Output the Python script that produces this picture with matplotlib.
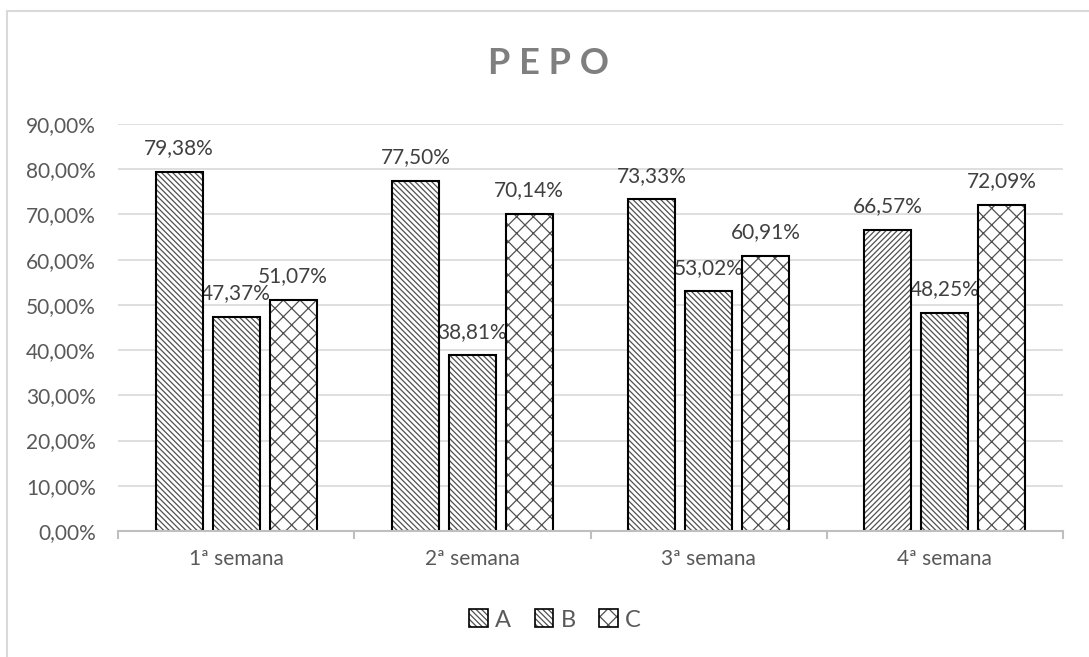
import matplotlib
matplotlib.use("Agg")
import matplotlib.pyplot as plt
from matplotlib.patches import Rectangle, Patch
import numpy as np

categories = ["1ª semana", "2ª semana", "3ª semana", "4ª semana"]
series_names = ["A", "B", "C"]
values_A = [79.38, 77.50, 73.33, 66.57]
values_B = [47.37, 38.81, 53.02, 48.25]
values_C = [51.07, 70.14, 60.91, 72.09]
yticks = [0, 10, 20, 30, 40, 50, 60, 70, 80, 90]

plt.rcParams['font.family'] = ['Lato', 'DejaVu Sans']
plt.rcParams['hatch.linewidth'] = 0.9

HATCH_COLOR = '#505050'

fig = plt.figure(figsize=(10.89, 6.57), dpi=100)
# chart border
fig.patches.append(Rectangle((7/1089, -0.1), 1.2, 1 - 11/657 + 0.1, transform=fig.transFigure,
                             fill=False, edgecolor='#d9d9d9', linewidth=1.5, zorder=0))

ax = fig.add_axes([118/1089, 1 - 531/657, (1063 - 118)/1089, (531 - 124)/657])

x = np.arange(len(categories))
width = 0.199
offset = 0.241
series = [values_A, values_B, values_C]
diag = '\\' * 6
hatches_A = [diag, diag, diag, '/' * 6]
hatches = [hatches_A, [diag] * 4, ['xx'] * 4]

for i, vals in enumerate(series):
    for j, v in enumerate(vals):
        xpos = x[j] + (i - 1) * offset
        ax.bar(xpos, v, width, facecolor='white', edgecolor=HATCH_COLOR,
               linewidth=0, hatch=hatches[i][j], zorder=3)
        ax.bar(xpos, v, width, fill=False, edgecolor='#000000', linewidth=1.5, zorder=3.5)
        ax.annotate(f"{v:.2f}".replace('.', ',') + "%", (xpos, v),
                    xytext=(0, 17), textcoords='offset points', ha='center', va='center',
                    fontsize=15, color='#404040', zorder=1)

ax.set_xlim(-0.5, 3.5)
ax.set_ylim(0, 90)
ax.set_yticks(yticks)
ax.set_yticklabels([f"{t:.2f}".replace('.', ',') + "%" for t in yticks])
ax.set_xticks(x)
ax.set_xticklabels(categories)
ax.set_xticks(np.arange(-0.5, 4.0, 1.0), minor=True)
ax.tick_params(axis='x', which='major', length=0, pad=13, labelsize=15, labelcolor='#595959')
ax.tick_params(axis='x', which='minor', length=6, width=1.5, color='#bfbfbf', direction='out')
ax.tick_params(axis='y', length=0, pad=16, labelsize=15, labelcolor='#595959')
ax.grid(axis='y', color='#d9d9d9', linewidth=1.2, zorder=0)
ax.set_axisbelow(True)
for s in ['top', 'right', 'left']:
    ax.spines[s].set_visible(False)
ax.spines['bottom'].set_color('#bfbfbf')
ax.spines['bottom'].set_linewidth(1.5)
ax.spines['bottom'].set_zorder(4)

fig.text(548/1089, 1 - 63/657, "P E P O", ha='center', va='center', fontsize=26, fontweight='bold',
         color='#7f7f7f')

def legend_handle(h):
    return (Patch(facecolor='white', edgecolor=HATCH_COLOR, hatch=h, linewidth=0),
            Patch(fill=False, edgecolor='black', linewidth=1.2))

handles = [legend_handle(diag), legend_handle(diag), legend_handle('xx')]
fig.legend(handles, series_names, loc='center', bbox_to_anchor=(555/1089, 1 - 620/657), ncol=3,
           frameon=False, fontsize=17, labelcolor='#595959', handlelength=0.8, handleheight=0.8,
           handletextpad=0.3, columnspacing=1.0)

fig.savefig("out.png", dpi=100)
